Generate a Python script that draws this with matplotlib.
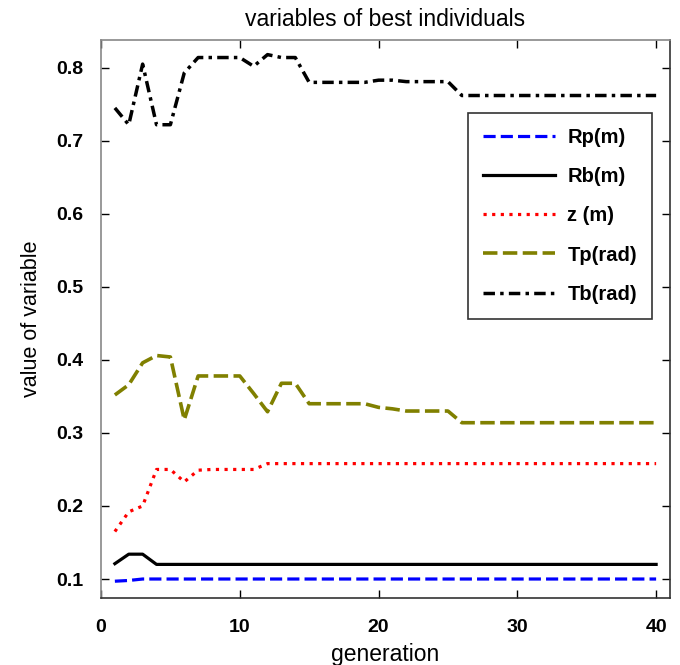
import matplotlib
matplotlib.use("Agg")
import matplotlib.pyplot as plt
import numpy as np

generation = list(range(1, 41))

Rp = [0.097, 0.098, 0.100] + [0.100] * 37
Rb = [0.121, 0.134, 0.134] + [0.120] * 37
z = [0.165, 0.192, 0.200, 0.250, 0.250, 0.233, 0.249, 0.250, 0.250, 0.250,
     0.250] + [0.258] * 29
Tp = [0.352, 0.366, 0.396, 0.406, 0.404, 0.318, 0.378, 0.378, 0.378, 0.378,
      0.354, 0.329, 0.368, 0.368, 0.340, 0.340, 0.340, 0.340, 0.340, 0.335,
      0.333, 0.330, 0.330, 0.330, 0.330] + [0.314] * 15
Tb = [0.745, 0.722, 0.805, 0.722, 0.722, 0.793, 0.814, 0.814, 0.814, 0.814,
      0.802, 0.818, 0.814, 0.814, 0.780, 0.780, 0.780, 0.780, 0.780, 0.783,
      0.783, 0.781, 0.781, 0.781, 0.781] + [0.762] * 15

labels = ["Rp(m)", "Rb(m)", "z (m)", "Tp(rad)", "Tb(rad)"]
xticks = [0, 10, 20, 30, 40]
yticks = [0.1, 0.2, 0.3, 0.4, 0.5, 0.6, 0.7, 0.8]

plt.rcParams['font.family'] = ['Liberation Sans', 'DejaVu Sans']

fig = plt.figure(figsize=(6.8, 6.65), dpi=100)
ax = fig.add_axes([101/680, 67/665, (670-101)/680, (598-40)/665])

lw = 2.3
ax.plot(generation, Rp, color='#0000ff', linestyle=(0, (3.8, 1.6)), linewidth=lw, label=labels[0])
ax.plot(generation, Rb, color='black', linestyle='-', linewidth=lw, label=labels[1])
ax.plot(generation, z, color='#ff0000', linestyle=(0, (1.0, 1.7)), linewidth=lw, label=labels[2])
ax.plot(generation, Tp, color='#808000', linestyle=(0, (4.0, 1.5)), linewidth=2.6, label=labels[3])
ax.plot(generation, Tb, color='black', linestyle=(0, (3.3, 1.5, 1.0, 1.5)), linewidth=2.5, label=labels[4])

ax.set_xlim(0, 41)
ax.set_ylim(0.074, 0.838)
ax.set_xticks(xticks)
ax.set_yticks(yticks)
ax.set_xticklabels([str(t) for t in xticks], fontsize=14, fontweight='bold')
ax.set_yticklabels([f"{t:.1f}" for t in yticks], fontsize=14, fontweight='bold')
ax.tick_params(direction='in', top=True, right=True, length=6, width=1)
ax.tick_params(axis='x', pad=15)
ax.tick_params(axis='y', pad=13)

for side in ['top', 'left']:
    ax.spines[side].set_color('#888888')
for side in ['bottom', 'right']:
    ax.spines[side].set_color('#333333')
for s in ax.spines.values():
    s.set_linewidth(1.2)

ax.set_title("variables of best individuals", fontsize=16.5, pad=10)
ax.set_xlabel("generation", fontsize=16.5, labelpad=5)
ax.set_ylabel("value of variable", fontsize=15.5, labelpad=10)

leg = ax.legend(loc='upper right', bbox_to_anchor=((652-101)/569, (598-113)/558),
                borderaxespad=0, prop={'weight': 'bold', 'size': 14.5},
                handlelength=3.6, handletextpad=0.6, labelspacing=1.0,
                borderpad=0.75, fancybox=False, framealpha=1, edgecolor='#333333')
leg.get_frame().set_linewidth(1.2)

fig.savefig("out.png", dpi=100)
